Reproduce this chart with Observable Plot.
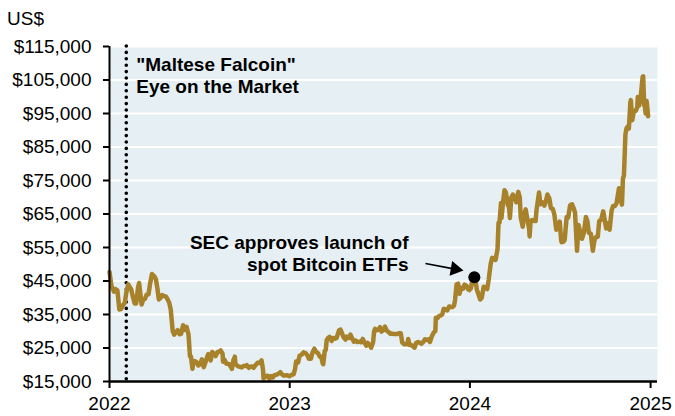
<!DOCTYPE html>
<html><head><meta charset="utf-8">
<script src="https://cdn.jsdelivr.net/npm/d3@7"></script>
<script src="https://cdn.jsdelivr.net/npm/@observablehq/plot@0.6"></script>
<style>
body{margin:0;background:#fff;font-family:"Liberation Sans",Arial,sans-serif;}
#title{height:30px;box-sizing:border-box;padding:8px 0 0 7px;font-size:19px;line-height:22px;color:#000;}
#chart svg{display:block;}
</style></head><body>
<div id="title">US$</div>
<div id="chart"></div>
<script>
const dates = [
"2022-01-01","2022-01-05","2022-01-10","2022-01-13","2022-01-17","2022-01-21","2022-01-24","2022-01-28",
"2022-02-01","2022-02-04","2022-02-08","2022-02-10","2022-02-14","2022-02-17","2022-02-21","2022-02-24","2022-02-28",
"2022-03-02","2022-03-07","2022-03-10","2022-03-14","2022-03-17","2022-03-21","2022-03-24","2022-03-28",
"2022-04-02","2022-04-05","2022-04-08","2022-04-11","2022-04-14","2022-04-18","2022-04-21","2022-04-25","2022-04-28",
"2022-05-02","2022-05-05","2022-05-09","2022-05-12","2022-05-16","2022-05-19","2022-05-23","2022-05-26","2022-05-30",
"2022-06-02","2022-06-06","2022-06-10","2022-06-13","2022-06-15","2022-06-18","2022-06-20","2022-06-23","2022-06-27","2022-06-30",
"2022-07-04","2022-07-07","2022-07-11","2022-07-14","2022-07-18","2022-07-20","2022-07-25","2022-07-28",
"2022-08-01","2022-08-04","2022-08-08","2022-08-11","2022-08-14","2022-08-18","2022-08-19","2022-08-22","2022-08-26","2022-08-29",
"2022-09-01","2022-09-06","2022-09-09","2022-09-12","2022-09-13","2022-09-19","2022-09-22","2022-09-26","2022-09-29",
"2022-10-03","2022-10-06","2022-10-10","2022-10-13","2022-10-17","2022-10-20","2022-10-25","2022-10-28",
"2022-11-01","2022-11-05","2022-11-08","2022-11-09","2022-11-14","2022-11-17","2022-11-21","2022-11-24","2022-11-28",
"2022-12-01","2022-12-05","2022-12-08","2022-12-13","2022-12-15","2022-12-19","2022-12-22","2022-12-26","2022-12-31",
"2023-01-04","2023-01-09","2023-01-12","2023-01-14","2023-01-18","2023-01-21","2023-01-25","2023-01-29",
"2023-02-02","2023-02-06","2023-02-09","2023-02-13","2023-02-16","2023-02-20","2023-02-23","2023-02-27",
"2023-03-03","2023-03-06","2023-03-09","2023-03-10","2023-03-13","2023-03-15","2023-03-17","2023-03-20","2023-03-23","2023-03-27","2023-03-30",
"2023-04-03","2023-04-06","2023-04-11","2023-04-14","2023-04-17","2023-04-20","2023-04-24","2023-04-26",
"2023-05-01","2023-05-04","2023-05-08","2023-05-11","2023-05-15","2023-05-18","2023-05-22","2023-05-26","2023-05-29",
"2023-06-01","2023-06-05","2023-06-08","2023-06-12","2023-06-15","2023-06-19","2023-06-21","2023-06-23","2023-06-26","2023-06-30",
"2023-07-03","2023-07-06","2023-07-10","2023-07-13","2023-07-17","2023-07-20","2023-07-24","2023-07-27","2023-07-31",
"2023-08-03","2023-08-07","2023-08-10","2023-08-14","2023-08-17","2023-08-21","2023-08-24","2023-08-28","2023-08-29",
"2023-09-01","2023-09-05","2023-09-11","2023-09-14","2023-09-18","2023-09-21","2023-09-25","2023-09-29",
"2023-10-02","2023-10-05","2023-10-09","2023-10-12","2023-10-16","2023-10-20","2023-10-23","2023-10-24","2023-10-27","2023-10-31",
"2023-11-03","2023-11-06","2023-11-09","2023-11-13","2023-11-16","2023-11-20","2023-11-23","2023-11-27","2023-11-30",
"2023-12-02","2023-12-05","2023-12-08","2023-12-11","2023-12-14","2023-12-18","2023-12-21","2023-12-25","2023-12-28","2023-12-31",
"2024-01-03","2024-01-08","2024-01-10","2024-01-11","2024-01-15","2024-01-18","2024-01-22","2024-01-25","2024-01-29",
"2024-02-01","2024-02-05","2024-02-08","2024-02-12","2024-02-15","2024-02-19","2024-02-22","2024-02-26","2024-02-28",
"2024-03-01","2024-03-04","2024-03-05","2024-03-08","2024-03-11","2024-03-14","2024-03-18","2024-03-20","2024-03-22","2024-03-25","2024-03-28",
"2024-04-01","2024-04-04","2024-04-08","2024-04-11","2024-04-13","2024-04-17","2024-04-20","2024-04-23","2024-04-26","2024-04-30",
"2024-05-01","2024-05-03","2024-05-06","2024-05-09","2024-05-13","2024-05-15","2024-05-20","2024-05-23","2024-05-27","2024-05-31",
"2024-06-03","2024-06-06","2024-06-10","2024-06-13","2024-06-17","2024-06-20","2024-06-24","2024-06-27",
"2024-07-01","2024-07-04","2024-07-05","2024-07-08","2024-07-11","2024-07-15","2024-07-18","2024-07-22","2024-07-26","2024-07-29",
"2024-08-01","2024-08-05","2024-08-08","2024-08-12","2024-08-15","2024-08-19","2024-08-23","2024-08-26","2024-08-29",
"2024-09-02","2024-09-06","2024-09-09","2024-09-12","2024-09-16","2024-09-19","2024-09-23","2024-09-27","2024-09-30",
"2024-10-03","2024-10-07","2024-10-10","2024-10-14","2024-10-17","2024-10-21","2024-10-24","2024-10-29",
"2024-11-01","2024-11-04","2024-11-06","2024-11-08","2024-11-11","2024-11-13","2024-11-15","2024-11-18","2024-11-21","2024-11-22","2024-11-25","2024-11-28",
"2024-12-02","2024-12-05","2024-12-06","2024-12-09","2024-12-12","2024-12-16","2024-12-17","2024-12-19","2024-12-20","2024-12-22","2024-12-24","2024-12-26","2024-12-27"
];
const prices = [
47700,43500,41800,42600,42200,36500,36600,37700,
38500,41500,44000,43500,42500,40500,38300,38300,43200,
44400,38000,39400,39700,40900,41000,44000,47100,
46300,45500,42800,39500,39900,40800,40500,40400,39700,
38500,36500,30100,29000,29800,30300,29100,29200,31800,
30400,31300,29100,22500,22500,18800,20600,21100,20700,19800,
20200,21600,19300,20600,22400,23200,21300,23800,
23300,22600,23800,23900,24300,23300,20900,21500,20300,20300,
20100,18800,21400,22400,20200,19500,19400,19200,19600,
19600,19900,19100,19400,19500,19100,20100,20600,
20500,21300,18500,15900,16600,16700,15800,16600,16200,
16900,17000,17200,17800,17400,16800,16800,16900,16550,
16900,17200,18800,21000,20700,22700,23000,23700,
23500,22800,21800,21800,23600,24800,23900,23500,
22400,22400,20400,20200,24100,24400,27400,28000,28300,27100,28000,
27800,28000,30300,30500,29400,28200,27500,28400,
28000,29000,27700,26900,27200,26800,26900,26700,27700,
26800,25700,26500,25900,25100,26800,30000,30700,30300,30500,
31200,29900,30400,31400,30100,29800,29200,29300,29200,
29200,29200,29400,29400,26600,26100,26200,26100,27700,
25900,25800,25100,26500,26800,26600,26300,26900,
27600,27400,27600,26800,28500,29700,30000,34000,33900,34600,
34700,35000,36700,36500,36200,37400,37300,37200,37700,
39400,44000,44200,41200,43000,42700,43900,43600,42600,42300,
42800,47000,46100,46400,42500,41200,39500,40000,43300,
43100,42600,45300,50000,51900,51800,51300,54500,62400,
62400,68300,63800,68300,72100,71400,67600,67900,63800,70000,70800,
69700,68500,71600,70000,64000,61200,64900,66400,63800,60600,
58300,62900,63200,63000,62900,66200,71400,67900,68500,67500,
68800,70800,69600,66800,66500,64900,60300,61600,
62700,57000,56600,56700,57300,64100,63900,67600,67900,66800,
65400,54000,61700,59300,57600,59500,64100,62900,59400,
59100,54000,57000,58100,58200,62900,63300,65800,63300,
60700,62200,60300,66000,67400,67400,68200,72700,
69500,67800,75600,76500,88700,90500,91000,90500,98300,99000,93000,95600,
95800,96900,99900,97400,100000,106000,106100,97500,97700,95000,98700,95800,94200
];
const yTicks = [15000,25000,35000,45000,55000,65000,75000,85000,95000,105000,115000];
const yearTicks = ["2022-01-01","2023-01-01","2024-01-01","2025-01-01"];
const xDomain = ["2022-01-01","2025-01-15"];
const falconDate = "2022-02-04";
const falconText = "\"Maltese Falcoin\"\nEye on the Market";
const etfDate = "2024-01-10";
const etfPrice = 46100;
const etfText = "SEC approves launch of\nspot Bitcoin ETFs";
const arrowStart = ["2023-10-03", 50200];
const arrowHead = ["2023-12-02", 48550];

const series = dates.map((d, i) => ({date: new Date(d), price: prices[i]}));
const font = "'Liberation Sans', Arial, sans-serif";
const lineColor = "#a8822a";

const chart = Plot.plot({
  width: 675,
  height: 386,
  marginLeft: 109,
  marginRight: 18,
  marginTop: 16,
  marginBottom: 35,
  style: {fontFamily: font, fontSize: "19px", color: "#000", background: "transparent"},
  x: {type: "utc", domain: xDomain.map(d => new Date(d)), label: null},
  y: {domain: [yTicks[0], yTicks[yTicks.length - 1]], label: null},
  marks: [
    Plot.frame({fill: "#e6eff3", stroke: null}),
    Plot.ruleY(yTicks, {stroke: "#ffffff", strokeWidth: 2}),
    Plot.ruleX([new Date(falconDate)], {stroke: "#000", strokeWidth: 3.6, strokeDasharray: "0,6.4", strokeLinecap: "round"}),
    Plot.line(series, {x: "date", y: "price", stroke: lineColor, strokeWidth: 4.5, strokeLinejoin: "round", strokeLinecap: "round"}),
    Plot.text([falconText], {x: () => new Date(falconDate), y: () => yTicks[yTicks.length - 1], text: d => d,
      textAnchor: "start", lineAnchor: "top", dx: 10, dy: 9, lineHeight: 1.16,
      fontWeight: "bold", fontSize: 19, fill: "#000"}),
    Plot.text([etfText], {x: () => new Date(arrowStart[0]), y: () => arrowStart[1], text: d => d,
      textAnchor: "end", lineAnchor: "top", dx: -17, dy: -30, lineHeight: 1.16,
      fontWeight: "bold", fontSize: 19, fill: "#000"}),
    Plot.link([0], {x1: () => new Date(arrowStart[0]), y1: () => arrowStart[1], x2: () => new Date(arrowHead[0]), y2: () => arrowHead[1],
      stroke: "#000", strokeWidth: 1.6}),
    Plot.dot([0], {x: () => new Date(arrowHead[0]), y: () => arrowHead[1], symbol: "triangle", r: 5.5, fill: "#000", stroke: null, rotate: 100}),
    Plot.dot([0], {x: () => new Date(etfDate), y: () => etfPrice, r: 6, fill: "#000", stroke: null}),
    Plot.ruleX([new Date(xDomain[0])], {stroke: "#000", strokeWidth: 2}),
    Plot.ruleY([yTicks[0]], {stroke: "#000", strokeWidth: 2.5}),
    Plot.axisY({ticks: yTicks, tickFormat: d3.format("$,"), tickSize: 6, tickPadding: 12, strokeWidth: 2, stroke: "#000", fill: "#000", fontSize: 19, label: null}),
    Plot.axisX({ticks: yearTicks.map(d => new Date(d)), tickFormat: d3.utcFormat("%Y"), tickSize: 7, tickPadding: 8, strokeWidth: 2, stroke: "#000", fill: "#000", fontSize: 19, label: null})
  ]
});
document.getElementById("chart").appendChild(chart);
</script>
</body></html>
